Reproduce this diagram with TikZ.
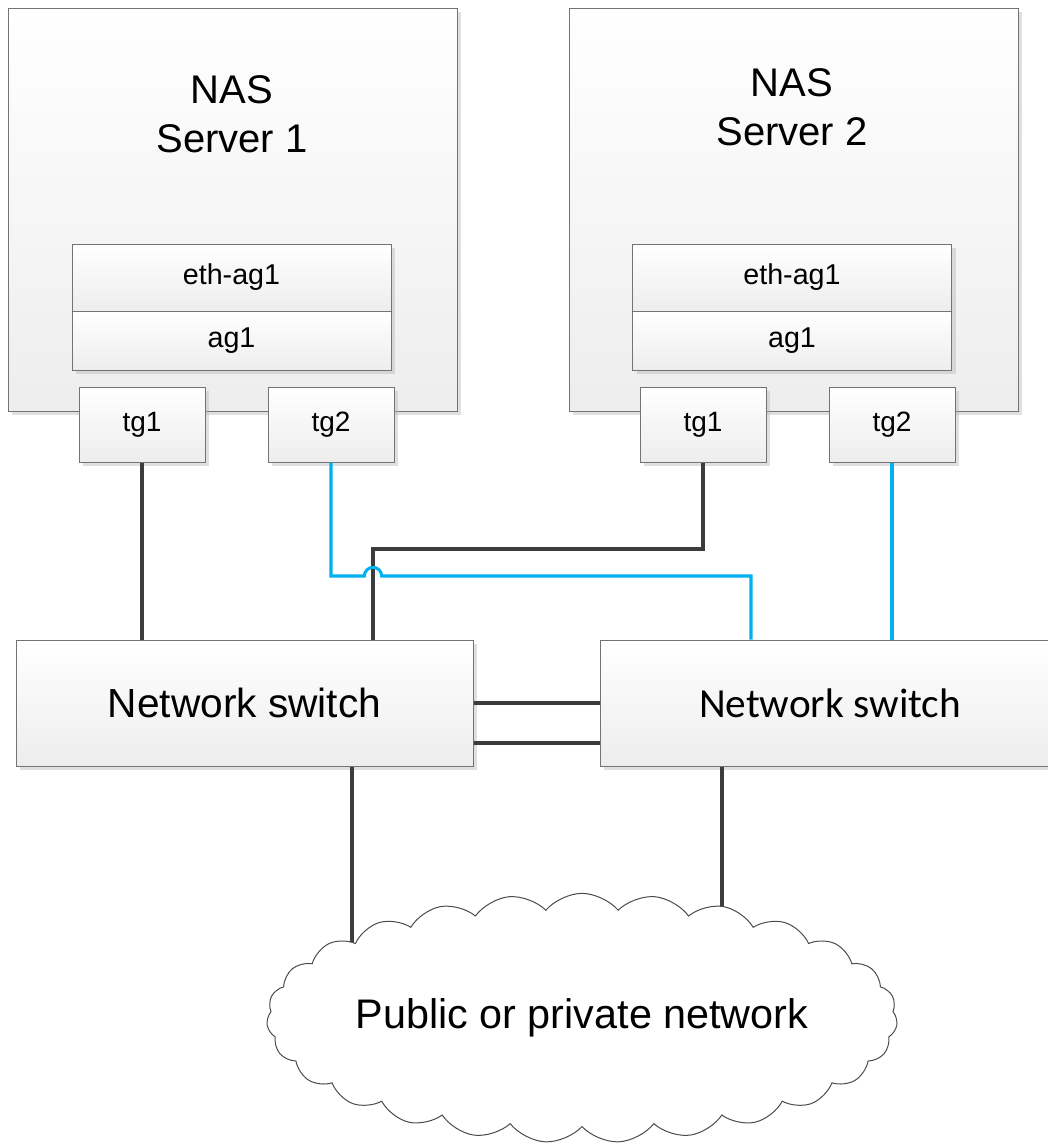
\documentclass[tikz,border=0pt]{standalone}
\usepackage{fontspec}
\setmainfont{Liberation Sans}
\newfontfamily\calibri{Carlito}
\usetikzlibrary{shapes.symbols,shadows}

\definecolor{wiregray}{HTML}{3C3C3C}
\definecolor{lanblue}{HTML}{00B0F0}

\tikzset{
  box/.style={draw=black!55, line width=0.75pt, top color=white, bottom color=black!7,
    drop shadow={shadow xshift=3pt,shadow yshift=-3pt,fill=black!30,opacity=0.4}, inner sep=0pt},
  port/.style={box, minimum width=94.5pt, minimum height=56.25pt, font=\fontsize{21}{25}\selectfont},
  layer/.style={box, minimum width=239.25pt, font=\fontsize{21.5}{25}\selectfont},
  switchbox/.style={box, minimum height=94.5pt},
  wire/.style={draw=wiregray, line width=2.4pt},
  lan/.style={draw=lanblue, line width=2.3pt},
}

\begin{document}
\begin{tikzpicture}[x=0.75pt,y=0.75pt]
\useasboundingbox (0,0) rectangle (1048,-1146);

% servers
\node[box, minimum width=336.75pt, minimum height=302.25pt] (srv1) at (232.5,-209.5) {};
\node[box, minimum width=336.75pt, minimum height=302.25pt] (srv2) at (793.5,-209.5) {};
\node[font=\fontsize{30}{37}\selectfont, align=center] (name1) at (232,-114) {NAS\\Server 1};
\node[font=\fontsize{30}{37}\selectfont, align=center] (name2) at (792,-107) {NAS\\Server 2};

\node[layer, minimum height=50.25pt] (eth1) at (231.5,-277.5) {eth-ag1};
\node[layer, minimum height=44.25pt] (ag1) at (231.5,-340.5) {ag1};
\node[layer, minimum height=50.25pt] (eth2) at (792,-277.5) {eth-ag1};
\node[layer, minimum height=44.25pt] (ag2) at (792,-340.5) {ag1};

% ports
\node[port] (t11) at (142,-424.5) {tg1};
\node[port] (t12) at (331,-424.5) {tg2};
\node[port] (t21) at (703,-424.5) {tg1};
\node[port] (t22) at (892,-424.5) {tg2};

% switches
\node[switchbox, minimum width=342.75pt, font=\fontsize{30.5}{36}\selectfont] (sw1) at (244.5,-703) {Network switch};
\node[switchbox, minimum width=345pt, font=\calibri\fontsize{31}{37}\selectfont] (sw2) at (830,-703) {Network switch};

% wires
\draw[wire] (t11.south) -- (t11.south |- sw1.north);
\coordinate (j1) at (373,-549);
\draw[wire] (t21.south) |- (j1) -- (j1 |- sw1.north);
\coordinate (hop) at (364.33,-576);
\coordinate (bend) at (751,-576);
\draw[lan] (t12.south) |- (hop) arc[start angle=180,end angle=0,radius=6.5pt] -- (bend) -- (bend |- sw2.north);
\draw[lan] (t22.south) -- (t22.south |- sw2.north);

\draw[wire] (sw1.east) -- (sw2.west);
\draw[wire] ([yshift=-30pt]sw1.east) -- ([yshift=-30pt]sw2.west);

% network
\coordinate (netc) at (582,-1018);
\coordinate (up1) at (352,-1000);
\coordinate (up2) at (722,-1000);
\draw[wire] (sw1.south -| up1) -- (up1);
\draw[wire] (sw2.south -| up2) -- (up2);
\node[cloud, cloud puffs=27, cloud puff arc=100, aspect=2.5, draw=black!70, line width=0.75pt,
  fill=white, minimum width=473pt, minimum height=187pt, inner sep=0pt] (net) at (netc) {};
\node[font=\fontsize{31}{36}\selectfont] (nettext) at (netc) {Public or private network};

\end{tikzpicture}
\end{document}
